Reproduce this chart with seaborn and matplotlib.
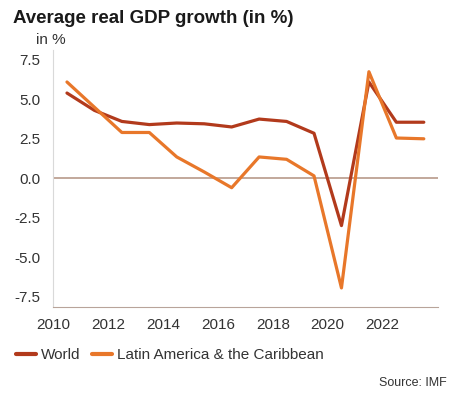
import pandas as pd
import seaborn as sns
import matplotlib.pyplot as plt
from matplotlib.lines import Line2D

# Data (mid-year points)
years = [2010.5, 2011.5, 2012.5, 2013.5, 2014.5, 2015.5, 2016.5,
         2017.5, 2018.5, 2019.5, 2020.5, 2021.5, 2022.5, 2023.5]
world = [5.4, 4.3, 3.6, 3.4, 3.5, 3.45, 3.25, 3.75, 3.6, 2.85, -3.0, 6.1, 3.55, 3.55]
latam = [6.1, 4.5, 2.9, 2.9, 1.35, 0.4, -0.6, 1.35, 1.2, 0.15, -6.95, 6.75, 2.55, 2.5]
series_names = ['World', 'Latin America & the Caribbean']
colors = ['#B23A1C', '#E8772A']

df = pd.DataFrame({'year': years, series_names[0]: world, series_names[1]: latam})
long_df = df.melt(id_vars='year', var_name='series', value_name='growth')

sns.set_style('white')
plt.rcParams['font.family'] = ['Liberation Sans', 'DejaVu Sans']

fig = plt.figure(figsize=(4.63, 3.97), dpi=100)
ax = fig.add_axes([0.115, 0.227, 0.83, 0.648])

sns.lineplot(data=long_df, x='year', y='growth', hue='series',
             palette=colors, linewidth=2.3, ax=ax, legend=False)

ax.axhline(0, color='#B89A8A', linewidth=1.2, zorder=0)

ax.set_xlim(2010, 2024)
ax.set_ylim(-8.15, 8.15)
ax.set_xticks(range(2010, 2025, 2))
ax.set_xticklabels([str(y) for y in range(2010, 2024, 2)] + [''])
ax.set_yticks([-7.5, -5.0, -2.5, 0.0, 2.5, 5.0, 7.5])
ax.set_yticklabels(['-7.5', '-5.0', '-2.5', '0.0', '2.5', '5.0', '7.5'])
ax.set_xlabel('')
ax.set_ylabel('')

for s in ['top', 'right']:
    ax.spines[s].set_visible(False)
ax.spines['left'].set_color('#D9D9D9')
ax.spines['bottom'].set_color('#B8A49A')
ax.tick_params(axis='both', which='major', length=5, width=1, color='#A08070',
               labelsize=11, labelcolor='#333333', direction='out')
ax.tick_params(axis='y', pad=4)
ax.tick_params(axis='x', pad=3)

fig.text(0.028, 0.953, 'Average real GDP growth (in %)', fontsize=13.5,
         fontweight='bold', color='#1A1A1A', va='center')
fig.text(0.078, 0.9, 'in %', fontsize=11, color='#333333', va='center')

# legend along the bottom left
handles = [Line2D([0], [0], color=c, linewidth=3) for c in colors]
fig.legend(handles, series_names, loc='center left', bbox_to_anchor=(0.005, 0.105),
           ncol=2, frameon=False, fontsize=11, handlelength=1.3,
           handletextpad=0.3, columnspacing=0.8, labelcolor='#333333')

fig.text(0.965, 0.035, 'Source: IMF', fontsize=9, color='#333333',
         ha='right', va='center')

fig.savefig('out.png', dpi=100)
